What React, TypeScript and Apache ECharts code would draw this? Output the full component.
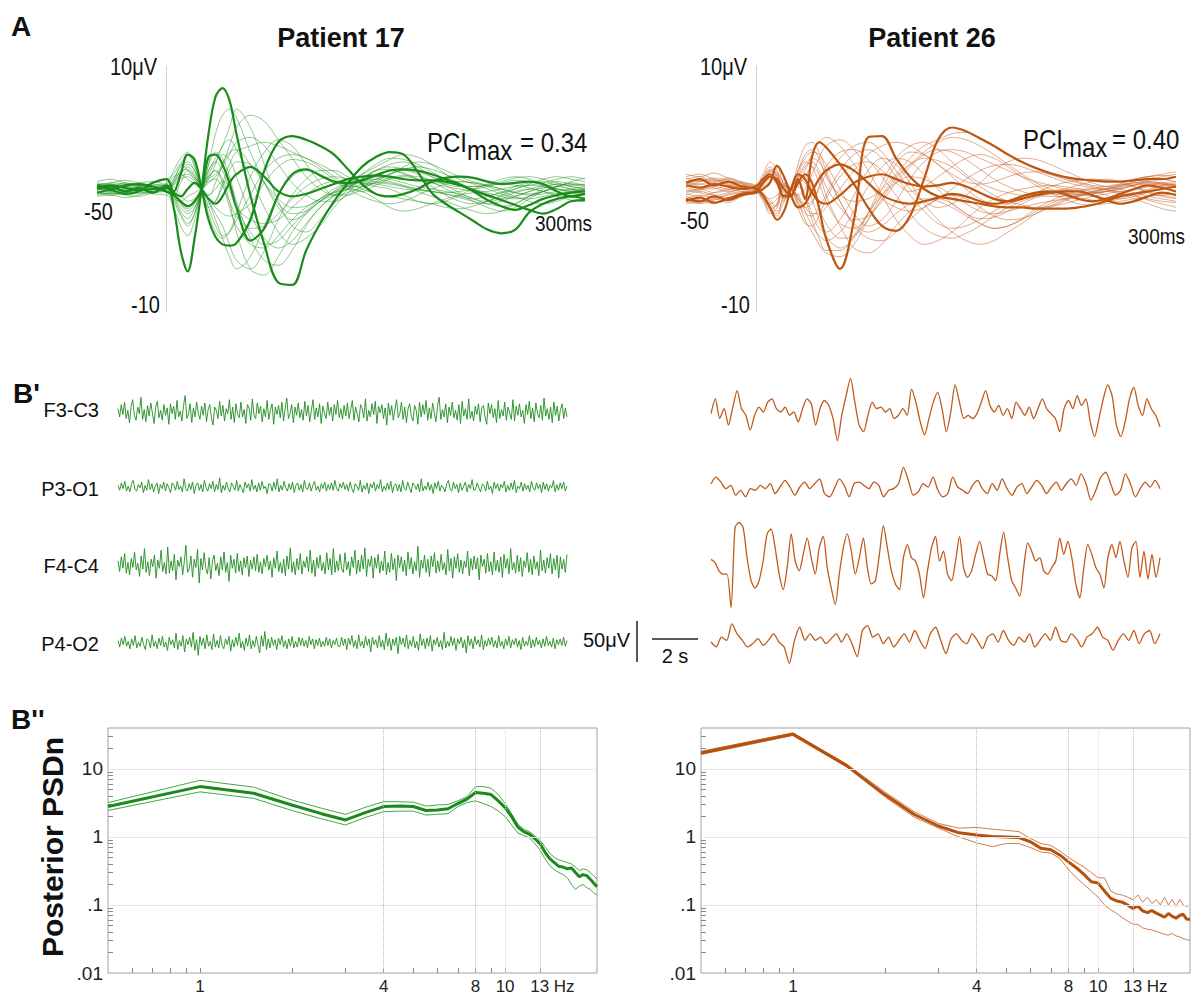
import React, { useEffect, useRef } from "react";
import * as echarts from "echarts";

// ---------- Panel A: TMS-evoked potentials (µV) ----------
const erpTimesMs = [-50, -40, -30, -20, -10, 0, 5, 10, 15, 20, 25, 30, 35, 40, 45, 50, 60, 70, 80, 90, 100, 110, 120, 130, 140, 150, 160, 170, 180, 190, 200, 210, 220, 230, 240, 250, 260, 270, 280, 290, 300];

const patient17Thin = [
  [0.3,0.5,0.4,0.2,0.5,0.8,1.2,2.0,1.5,0.8,0,-1.5,-3.0,-3.8,-3.5,-2.5,-0.5,1.5,2.5,2.8,2.5,1.8,1.0,0.2,-0.2,0.3,0.8,1.0,0.8,0.5,0.2,0,-0.2,-0.5,-0.3,0.2,0.5,0.6,0.3,0,-0.2],
  [-0.4,-0.3,-0.5,-0.6,-0.3,0,0.5,1.2,1.8,1.2,0,2.0,4.5,6.0,6.5,5.8,3.0,0.5,-1.5,-2.5,-2.0,-1.0,-0.3,0.2,0.8,1.5,2.0,2.2,1.8,1.0,0.3,-0.3,-0.8,-1.0,-0.8,-0.3,0,0.3,0.6,0.4,0.2],
  [0.2,0,0.3,0.5,0.6,0.2,-0.8,-2.0,-2.8,-2.0,0,1.0,1.5,0.8,-1.0,-3.5,-6.5,-7.0,-5.5,-3.5,-2.0,-1.0,-0.5,0,0.8,1.5,1.8,1.6,1.2,0.6,0,-0.5,-1.0,-1.5,-1.8,-1.5,-0.8,-0.2,0.2,0.5,0.3],
  [0.6,0.8,0.5,0.3,0.1,-0.3,-0.5,0.5,1.5,1.0,0,-1.0,-2.0,-3.0,-4.5,-5.8,-6.5,-5.0,-2.5,-0.5,0.8,1.5,1.5,1.0,0.5,0.2,0,-0.5,-1.0,-1.2,-1.0,-0.5,0,0.4,0.8,1.0,0.8,0.4,0,-0.3,-0.5],
  [-0.2,-0.4,-0.3,0,0.3,0.5,1.5,2.5,3.0,2.0,0,-1.5,-1.0,0.5,2.0,3.0,3.5,3.8,3.5,3.0,2.5,2.0,1.4,0.8,0.8,1.2,1.5,1.3,0.8,0.2,-0.5,-1.0,-1.2,-1.0,-0.5,0,0.3,0.5,0.8,1.0,0.8],
  [0.4,0.2,0,-0.2,-0.4,-0.5,-1.5,-3.0,-3.8,-2.5,0,2.0,3.0,2.5,1.0,-1.0,-4.0,-5.8,-6.2,-5.0,-3.0,-1.5,-0.6,0,-0.2,-0.8,-1.5,-1.8,-1.6,-1.2,-0.8,-0.5,-0.3,-0.2,0,0.2,0.3,0.2,-0.2,-0.5,-0.3],
  [-0.6,-0.5,-0.7,-0.5,-0.2,0,0.3,0.8,1.0,0.6,0,0.8,2.0,3.5,4.0,3.2,1.0,-1.5,-3.5,-4.5,-4.0,-3.0,-1.5,-0.3,0.8,1.5,1.6,1.2,0.8,0.5,0.5,0.6,0.5,0.2,-0.2,-0.6,-1.0,-1.2,-1.0,-0.6,-0.4],
  [0,0.2,0.4,0.3,0,-0.2,0.5,1.5,2.0,1.5,0,-2.0,-3.5,-4.0,-3.5,-2.0,1.0,3.0,4.0,3.5,2.0,0.5,-0.5,-0.5,0,0.6,1.2,1.8,2.2,2.0,1.5,1.0,0.6,0.3,0,-0.3,-0.4,-0.2,0.2,0.6,0.9],
  [0.5,0.3,0.1,-0.1,-0.2,0.3,-0.5,-1.5,-2.0,-1.5,0,1.5,2.5,3.5,5.0,6.5,5.0,2.0,-1.0,-3.0,-3.5,-2.5,-1.2,0,0.8,1.0,0.8,0.5,0.2,0,-0.2,-0.4,-0.8,-1.2,-1.4,-1.2,-0.6,0,0.4,0.2,0],
  [-0.1,0,-0.2,-0.4,-0.2,0.1,0.8,1.8,2.2,1.5,0,-0.5,0,0.6,0.2,-1.5,-3.5,-4.5,-4.2,-3.0,-1.8,-0.8,0,0.5,1.2,2.0,2.5,2.4,2.0,1.4,0.8,0.4,0,-0.3,-0.6,-0.8,-0.6,-0.2,0.2,0.4,0.3],
  [0.3,0.5,0.7,0.5,0.2,-0.3,-1.0,-2.2,-3.0,-2.0,0,1.5,2.2,1.5,0,-1.5,-2.5,-2.8,-2.5,-1.5,-0.5,0.3,0.6,0.4,0,-0.4,-0.6,-0.8,-1.0,-1.2,-1.5,-1.6,-1.4,-1.0,-0.6,-0.2,0,-0.2,-0.6,-0.9,-1.0],
  [-0.3,-0.5,-0.3,-0.1,0.2,0.4,1.0,1.2,0.8,0.4,0,0.5,1.0,1.8,2.8,3.8,4.2,3.5,2.0,0.5,-0.5,-1.0,-1.0,-0.5,0.2,0.8,1.2,1.5,1.4,1.0,0.6,0.3,0.2,0.3,0.6,0.9,1.0,0.8,0.5,0.3,0.4],
  [0.1,-0.1,0.2,0,-0.3,-0.2,-0.8,-1.0,-0.6,-0.3,0,-1.0,-2.5,-4.0,-5.5,-6.5,-5.5,-3.0,-0.5,1.0,1.5,1.2,0.6,0,-0.6,-1.0,-1.2,-1.0,-0.5,0,0.4,0.6,0.5,0.3,0,-0.3,-0.5,-0.4,-0.2,0,0.2],
  [0.2,0.4,0.2,0.3,0.4,0.2,0.8,2.0,2.8,1.8,0,-1.2,-1.0,0.2,1.5,2.2,2.0,0.5,-1.2,-2.0,-1.8,-1.0,-0.2,0.5,1.2,1.8,2.4,2.8,2.6,2.0,1.2,0.4,-0.2,-0.6,-0.8,-0.6,-0.2,0.2,0.4,0.2,0],
  [-0.5,-0.3,0,0.2,0,0,-0.4,-1.2,-1.6,-1.0,0,0.8,1.2,2.0,3.5,5.0,6.0,5.5,4.0,2.5,1.0,0,-0.5,-0.3,0.2,0.5,0.4,0.2,0,-0.2,-0.4,-0.6,-0.8,-0.6,-0.3,0,0.4,0.8,1.0,0.8,0.6],
  [0,-0.2,-0.4,-0.2,0,0.3,0.2,-0.5,-1.0,-0.8,0,1.0,1.5,0.5,-1.5,-3.0,-4.5,-4.8,-3.8,-2.5,-1.5,-0.8,-0.3,0,0.4,0.6,0.5,0.2,-0.2,-0.6,-1.0,-1.4,-1.8,-2.0,-1.8,-1.2,-0.6,-0.2,0,-0.2,-0.4],
  [0.2,0,0.2,0.4,0.2,0,0.4,1.0,1.2,0.8,0,-0.8,-1.5,-2.0,-2.2,-2.0,-1.2,0.5,1.8,2.4,2.2,1.6,0.8,0.2,0.2,0.5,0.9,1.1,1.0,0.7,0.4,0.2,0.2,0.3,0.4,0.3,0.1,-0.2,-0.4,-0.3,-0.1],
  [-0.2,-0.4,-0.2,0,0.2,0.1,-0.6,-1.8,-2.4,-1.6,0,1.2,2.2,2.8,2.4,1.0,-2.0,-4.0,-4.8,-4.2,-2.8,-1.5,-0.5,0.2,0.5,0.4,0.2,0,-0.1,-0.2,-0.4,-0.7,-1.0,-1.2,-1.0,-0.6,-0.2,0.1,0.2,0,-0.2],
  [0.4,0.2,0.5,0.3,0,-0.2,0.6,1.4,1.6,1.0,0,-0.5,0.5,2.0,3.0,3.2,2.0,0.5,-0.8,-1.5,-1.4,-0.8,-0.2,0.3,0.6,0.8,0.6,0.3,0,-0.2,-0.3,-0.2,0,0.2,0.5,0.7,0.6,0.3,0,-0.1,0],
  [-0.1,0.1,-0.1,-0.3,-0.1,0.2,-0.3,-1.2,-1.8,-1.2,0,0.6,0.8,0.2,-1.0,-2.2,-3.2,-3.0,-2.0,-0.8,0.2,0.8,1.0,0.8,0.6,0.8,1.2,1.6,1.8,1.6,1.2,0.8,0.4,0,-0.4,-0.7,-0.8,-0.6,-0.4,-0.2,0],
];

const patient17Thick = [
  [0,0.2,-0.2,0.1,-0.3,0.3,-1.5,-5.0,-6.7,-4.0,0,4.5,7.5,8.2,7.2,4.5,-0.5,-4.5,-7.6,-7.8,-5.0,-2.8,-1.0,0.5,1.8,2.6,3.0,2.8,1.4,-0.3,-1.2,-1.9,-2.6,-3.3,-3.6,-3.3,-1.9,-1.2,-0.8,-0.6,-0.8],
  [-0.3,-0.1,-0.4,-0.2,0.5,0.8,-0.2,1.2,2.8,2.4,0,-2.5,-3.9,-4.5,-4.6,-4.4,-2.5,1.5,3.8,4.3,4.0,3.5,2.8,1.6,0.4,-0.4,-0.6,-0.4,0,0.6,0.9,1.0,0.9,0.6,0.4,0.5,0.6,0.4,-0.2,-0.6,-0.4],
  [0.3,0,0.3,0.4,0.2,-0.2,-0.5,-1.0,-1.4,-1.0,0,2.6,2.8,2.0,0.5,-1.5,-4.2,-3.2,-0.5,1.2,1.6,1.1,0.6,0.5,0.7,1.1,1.5,1.6,1.5,1.2,0.8,0.4,-0.2,-0.9,-1.4,-1.7,-1.3,-0.8,-0.5,-0.3,-0.2],
  [0.1,0.3,0.1,-0.1,0,0.1,-0.3,-0.6,0,0.5,0,-0.8,-1.2,-0.6,0.5,1.2,1.8,1.0,-0.2,-0.6,-0.4,0,0.4,0.8,1.0,1.1,1.0,0.8,0.7,0.7,0.6,0.3,-0.1,-0.5,-0.9,-1.3,-1.7,-2.0,-1.6,-1.0,-0.9],
];

const patient26Thin = [
  [0.8,1.0,0.6,0.9,0.5,0.2,0.8,1.6,1.0,-0.5,0,1.5,2.5,3.0,2.8,2.0,0,-2.0,-3.0,-2.5,-1.0,0.8,2.2,3.0,3.2,3.0,2.5,2.0,1.5,1.0,0.6,0.3,0,-0.2,-0.3,-0.2,0.2,0.6,1.0,1.2,1.4],
  [-0.6,-0.9,-1.2,-0.8,-0.5,-0.2,-0.8,-1.8,-1.2,0.5,0,-1.0,-2.5,-3.5,-4.5,-5.2,-5.5,-4.5,-2.5,-0.5,1.0,2.0,2.5,2.3,1.8,1.0,0.2,-0.5,-1.0,-1.3,-1.5,-1.4,-1.2,-0.9,-0.6,-0.4,-0.2,-0.5,-0.9,-1.2,-1.5],
  [0.2,0.4,0.1,-0.2,0,0.3,1.2,2.2,1.5,-0.8,0,1.0,1.0,0,-1.5,-2.8,-4.0,-3.8,-2.5,-0.8,0.8,2.0,3.0,3.8,4.2,4.0,3.5,2.8,2.0,1.2,0.5,0,-0.3,-0.5,-0.4,-0.2,0,0.3,0.5,0.4,0.3],
  [-0.3,0,0.3,0.5,0.2,0,-0.6,-1.5,-2.0,-0.5,0,2.0,3.5,3.8,3.0,1.5,-1.0,-2.8,-3.5,-3.0,-2.0,-1.2,-0.8,-1.0,-1.5,-2.2,-2.8,-3.2,-3.0,-2.5,-1.8,-1.2,-0.8,-0.5,-0.3,-0.2,-0.4,-0.8,-1.2,-1.6,-1.8],
  [1.2,1.0,1.3,0.9,0.6,0.3,1.0,1.8,1.2,0,0,-0.8,-1.5,-2.0,-2.0,-1.5,0,1.5,2.8,3.5,3.8,3.5,2.8,2.0,1.0,0,-0.8,-1.2,-1.2,-0.8,-0.3,0.2,0.5,0.7,0.8,0.7,0.6,0.8,1.0,0.8,0.6],
  [-1.2,-1.0,-0.8,-1.1,-0.6,-0.3,-1.0,-2.0,-1.5,0.8,0,-0.5,0,1.2,2.5,3.5,4.0,3.2,1.5,-0.5,-2.5,-3.8,-4.5,-4.2,-3.5,-2.5,-1.5,-0.8,-0.3,0,0.2,0.3,0.2,0,-0.2,-0.5,-0.8,-0.6,-0.3,0,0.2],
  [0.5,0.2,0,0.3,0.1,0,0.5,1.0,0.8,-0.3,0,0.8,0.5,-0.8,-2.5,-3.8,-4.8,-4.0,-2.0,0.5,2.5,3.5,3.8,3.2,2.2,1.2,0.5,0,-0.3,-0.5,-0.4,-0.2,0,0.3,0.6,0.8,0.6,0.2,-0.3,-0.6,-0.8],
  [-0.4,-0.6,-0.3,0,-0.2,-0.1,0.3,0.8,0.5,-0.2,0,1.5,2.8,3.2,2.5,1.0,-0.5,-1.0,-0.8,0,1.2,2.5,3.5,4.0,4.5,4.6,4.2,3.5,2.8,2.2,1.6,1.2,0.8,0.5,0.2,0,-0.2,-0.1,0.2,0.5,0.6],
  [0.9,0.6,0.8,0.4,0.3,0.1,-0.5,-1.2,-1.8,-0.6,0,0.5,-0.5,-2.0,-3.2,-3.5,-2.5,-0.5,1.5,2.5,2.0,0.5,-1.2,-2.5,-3.5,-4.2,-4.5,-4.2,-3.5,-2.8,-2.0,-1.4,-0.9,-0.5,-0.2,0,0.2,0.4,0.5,0.4,0.2],
  [-0.8,-0.5,-0.7,-0.4,-0.2,0,0.6,1.4,1.8,0.3,0,-1.2,-2.0,-2.2,-1.5,-0.5,1.5,2.8,3.2,2.5,1.0,-0.5,-1.8,-2.8,-3.2,-3.0,-2.5,-1.8,-1.2,-0.8,-0.5,-0.4,-0.5,-0.7,-0.9,-1.0,-0.8,-0.4,0,0.3,0.5],
  [0.3,0.6,0.9,0.7,0.4,0.2,-0.3,-0.8,-0.5,0.2,0,-0.5,-1.2,-1.0,0,1.2,2.5,3.5,3.8,3.0,1.5,0,-1.0,-1.5,-1.2,-0.5,0.5,1.5,2.2,2.5,2.4,2.0,1.5,1.0,0.5,0.2,0,-0.3,-0.6,-0.8,-1.0],
  [-0.1,-0.3,-0.5,-0.3,0,0.2,0.8,1.2,0.6,-0.5,0,1.0,2.0,2.5,2.2,1.2,-1.0,-3.0,-4.0,-4.2,-3.5,-2.5,-1.5,-0.8,-0.5,-0.8,-1.5,-2.2,-2.5,-2.4,-2.0,-1.5,-1.0,-0.6,-0.3,0,0.3,0.5,0.6,0.5,0.3],
  [1.0,1.2,0.8,0.6,0.5,0.3,-0.5,-1.5,-2.2,-1.0,0,0.2,-0.8,-2.5,-4.0,-5.0,-5.0,-3.8,-2.0,-0.5,0.5,1.0,0.8,0.2,-0.5,-1.2,-1.8,-2.0,-1.8,-1.5,-1.2,-1.0,-0.8,-0.6,-0.4,-0.2,0,0.3,0.7,1.0,1.2],
  [-1.0,-1.2,-0.9,-0.7,-0.4,-0.2,0.2,0.6,1.2,0.5,0,0.5,1.5,2.8,3.8,4.2,3.5,2.0,0.5,-0.8,-1.5,-1.8,-1.5,-0.8,0,0.8,1.5,1.9,2.0,1.8,1.4,1.0,0.6,0.3,0.1,0,0.1,0.3,0.4,0.3,0.1],
  [0.1,-0.1,0.2,0,0.2,0,0.8,1.5,1.0,-1.0,0,-1.5,-2.8,-3.0,-2.2,-0.8,1.0,2.0,2.2,1.5,0.5,-0.2,0.2,1.0,1.8,2.5,2.8,2.5,1.8,1.0,0.3,-0.3,-0.8,-1.2,-1.3,-1.2,-1.0,-0.8,-0.6,-0.5,-0.4],
  [-0.5,-0.2,-0.5,-0.7,-0.3,-0.1,-0.8,-1.2,-0.8,0.4,0,0.3,1.0,1.8,1.2,-0.5,-3.0,-4.8,-5.2,-4.5,-3.0,-1.8,-1.0,-0.8,-1.2,-2.0,-2.8,-3.2,-3.0,-2.4,-1.6,-1.0,-0.5,-0.2,0,0.2,0.4,0.2,-0.2,-0.5,-0.7],
  [0.6,0.4,0.7,0.3,0.2,0,-0.4,-1.0,-1.4,0.2,0,0.8,1.8,2.2,1.5,0.2,-1.5,-2.5,-2.2,-1.0,0.5,1.8,2.8,3.2,3.0,2.4,1.6,0.8,0.2,-0.2,-0.5,-0.6,-0.6,-0.4,-0.2,0,0.4,0.8,1.0,1.1,1.0],
  [-0.9,-1.1,-0.8,-0.5,-0.3,-0.2,0.4,1.0,1.4,0,0,-0.8,-1.5,-1.2,0.2,1.8,3.0,3.2,2.4,1.0,-0.5,-2.0,-3.2,-3.8,-4.0,-3.6,-3.0,-2.2,-1.5,-1.0,-0.6,-0.3,-0.1,0,0,-0.1,-0.3,-0.6,-0.8,-1.0,-1.1],
  [0.4,0.7,0.5,0.8,0.4,0.1,0.6,1.4,0.8,-0.6,0,1.2,2.2,1.8,0.5,-1.0,-2.8,-3.2,-2.0,0,2.0,3.0,2.8,2.0,1.2,0.6,0.4,0.6,1.0,1.3,1.4,1.2,0.9,0.6,0.3,0.2,0.3,0.5,0.6,0.5,0.3],
  [-0.2,0,-0.3,-0.1,0.1,0,-0.7,-1.6,-1.2,0.3,0,-0.6,-1.8,-3.0,-3.8,-4.2,-3.5,-1.8,0.2,1.8,2.5,2.2,1.2,0,-1.2,-2.0,-2.4,-2.3,-1.8,-1.2,-0.7,-0.4,-0.3,-0.4,-0.6,-0.7,-0.6,-0.4,-0.1,0.2,0.4],
];

const patient26Thick = [
  [0.3,0.1,0.4,0.2,0,0.2,0.8,1.2,0.5,-0.6,-0.6,0.8,-0.8,2.6,3.8,3.4,2.0,0.4,-1.5,-3.0,-3.4,-2.2,0.8,4.0,5.0,4.7,4.1,3.5,2.8,2.2,1.7,1.3,1.0,0.8,0.7,0.6,0.6,0.7,0.8,0.8,1.0],
  [-1.0,-0.7,-1.1,-0.8,-0.4,-0.2,0.5,1.0,0.8,0,-0.5,0.5,1.2,0.5,-1.5,-4.0,-6.5,-2.5,4.2,4.3,2.5,1.0,0,-0.6,-0.8,-1.0,-1.2,-1.4,-1.5,-1.5,-1.6,-1.6,-1.6,-1.5,-1.3,-1.0,-0.6,-0.4,-0.2,0,0.2],
  [-0.8,-1.0,-0.6,-0.9,-0.5,-0.3,0,0.5,1.9,1.0,-0.5,-1.5,-1.2,-0.2,0.8,1.5,2.0,1.5,0.5,-0.5,-1.0,-1.2,-1.0,-0.7,-0.4,-0.6,-1.0,-1.2,-1.0,-0.6,-0.3,-0.2,-0.4,-0.8,-1.0,-0.8,-0.4,0,0.3,0.1,-0.2],
  [0.5,0.8,0.3,0.6,0.2,0,-0.5,-1.5,-2.5,-1.8,0,1.2,0.8,-0.3,-1.0,-1.2,-0.5,0.5,1.0,1.2,0.8,0.4,0.2,0.3,0.5,0.2,-0.3,-0.8,-1.0,-0.8,-0.5,-0.3,-0.2,-0.2,-0.5,-0.9,-1.2,-1.0,-0.6,-0.3,-0.5],
];

// ---------- Panel B': spontaneous EEG (µV) ----------
const eegChannels = ["F3-C3", "P3-O1", "F4-C4", "P4-O2"];

const patient17F3C3 = [4,-6,9,-3,12,-8,2,-13,7,15,-4,-10,6,-2,18,-9,3,-12,8,-5,11,-1,-14,6,13,-7,2,-10,9,-4,5,-15,10,-2,7,-9,14,-6,1,-11,8,20,-8,-3,10,-13,5,-6,12,-2,-9,7,-4,11,-12,3,9,-7,-16,6,2,-8,13,-5,8,-11,4,-2,15,-9,6,-13,10,-3,-7,12,-6,3,-14,9,5,-10,16,-4,-8,11,-2,7,-12,4,-6,14,-9,2,10,-15,6,-3,8,-7,12,-11,4,17,-8,-2,9,-13,6,-4,11,-7,3,-10,13,-5,8,-12,2,15,-9,5,-6,10,-14,7,-1,-8,12,-4,6,-11,9,-3,14,-7,4,-9,8,
  -5,11,-8,3,14,-10,6,-2,-12,9,4,-7,16,-11,2,-6,10,-3,13,-14,7,-1,9,-8,5,-16,11,-4,8,-10,3,15,-7,-2,12,-9,6,-13,4,10,-5,-11,8,2,-15,12,-6,9,-3,14,-10,5,-8,11,-1,-12,7,18,-9,3,-6,10,-13,6,-4,12,-7,2,-10,9,-14,13,-5,4,-9,16,-8,1,-11,7,-3,10,-12,5,8,-6,-15,11,-2,9,-7,4,-13,14,-8,3,-5,12,-10,6,-1,-9,15,-11,7,-4,10,-6,2,-14,9,-3,13,-8,5,-12,11,-2,-7,8,-10,17,-5,4,-9,6,-13,12,-4,7,-11,3,10,-8,5,-6];
const patient17P3O1 = [2,-4,5,-2,7,-5,1,-6,4,8,-3,-5,3,-1,6,-7,2,-4,9,-3,4,-6,1,5,-8,3,-2,6,-5,4,-1,-7,5,2,-4,7,-3,1,-6,10,-2,-5,4,-3,6,-8,2,5,-4,3,-6,8,-1,-5,4,-2,7,-6,3,-3,11,-7,2,-4,6,-2,-6,5,1,-4,8,-5,3,-2,-7,6,-1,4,-5,9,-3,2,-6,5,-4,7,-2,1,-8,4,3,-5,6,-3,10,-6,2,-4,7,-1,-5,4,-3,6,-7,2,5,-4,3,-6,8,-2,-3,5,-5,2,7,-4,1,-6,4,-2,6,-5,3,-3,5,-4,8,-2,-5,4,-1,6,-3,
  3,-5,6,-2,-7,4,1,-4,8,-6,2,-3,5,-8,4,-1,6,-5,3,-2,9,-6,1,-4,5,-3,7,-7,2,4,-5,3,-6,8,-2,-4,6,-1,-7,5,2,-3,4,-6,10,-5,1,-3,6,-4,3,-8,5,-2,7,-5,2,-1,-6,4,8,-3,-5,6,-2,3,-7,5,-4,1,6,-6,3,-2,9,-4,-3,5,-1,-6,4,2,-5,7,-3,1,-8,6,-2,4,-5,3,-1,7,-6,2,-4,5,-3,8,-7,1,-2,6,-5,4,-3,2,-6,7,-1,-4,5,-2,3,-7,6,-3,4,-5,2,-1,8,-6,3,-4,5,-2,6,-5,1];
const patient17F4C4 = [5,-8,10,-4,14,-10,3,-12,8,-3,16,-6,2,-14,11,-5,20,-9,4,-13,7,-2,12,-16,6,-4,18,-8,3,-11,22,-10,5,-7,13,-18,6,-2,10,-12,4,24,-9,-5,11,-15,7,-3,19,-22,8,-6,15,-4,-11,9,-17,5,12,-7,2,-13,10,-6,16,-9,3,-20,12,-4,7,-10,14,-8,5,-12,9,-3,11,-14,6,-5,10,-7,13,-9,4,-11,8,-2,12,-6,5,-15,9,-4,17,-8,3,-10,7,-13,11,-5,21,-9,4,-12,8,-6,14,-11,5,-3,10,-8,18,-10,6,-14,9,-4,12,-7,3,-11,15,-6,8,-12,20,-9,5,-7,13,-5,
  -9,15,-6,4,-13,10,-3,18,-11,6,-8,12,-5,21,-14,7,-2,11,-16,9,-4,13,-10,5,-7,17,-12,3,-9,14,-6,8,-19,12,-3,10,-8,6,-13,16,-5,9,-11,4,-7,23,-15,6,-4,12,-9,7,-14,11,-2,15,-10,5,-8,13,-6,3,-12,19,-7,8,-16,10,-4,14,-9,6,-11,5,-3,17,-13,8,-6,11,-5,9,-18,12,-2,7,-10,14,-8,4,-12,16,-7,6,-9,10,-15,13,-4,8,-11,20,-6,3,-10,12,-8,9,-14,5,-3,15,-9,7,-12,11,-5,4,-13,18,-7,6,-10,9,-4,14,-11,8,-6,12,-16,10,-5,7,-9,13];
const patient17P4O2 = [3,-5,6,-2,8,-4,2,-7,5,-3,9,-6,1,-4,7,-2,-8,5,3,-6,10,-4,2,-7,6,-3,8,-5,1,-9,7,-2,4,-6,12,-8,3,-4,9,-11,5,-2,7,-5,13,-9,4,-15,8,-3,6,-7,10,-4,2,-8,11,-5,3,-6,9,-3,-7,5,-2,8,-10,4,-5,7,-3,12,-6,2,-9,6,-4,10,-7,3,-5,8,-2,-12,9,-4,14,-8,5,-6,7,-3,4,-8,6,-2,9,-5,3,-7,5,-4,8,-6,2,-5,7,-3,6,-4,3,-6,8,-2,5,-7,4,-3,6,-5,2,-4,7,-3,5,-6,3,-2,6,-4,
  -4,7,-3,5,-8,6,-2,9,-5,3,-7,10,-4,2,-6,8,-3,5,-11,7,-2,4,-6,9,-5,3,-8,12,-4,6,-9,5,-3,7,-13,8,-2,6,-5,10,-7,3,-4,8,-6,2,-9,11,-3,5,-7,6,-4,9,-10,4,-2,7,-5,3,-8,13,-6,2,-4,8,-3,6,-9,5,-1,7,-6,4,-12,9,-3,5,-7,8,-2,4,-5,10,-8,3,-4,6,-2,7,-5,3,-6,9,-4,2,-7,5,-3,8,-6,4,-2,6,-5,3,-8,7,-4,2,-3,9,-6,4,-5,7,-2,3,-6,5,-4,8,-3,2,-5,6,-7,4,-2,5,-3,7,-4,3];

const patient26F3C3 = [-2,16,-8,4,-16,6,26,4,-4,-22,-4,6,0,12,16,4,0,6,-4,0,-12,4,16,10,-16,4,14,8,-8,-35,-4,20,41,12,-16,-24,-4,12,4,6,0,4,-8,-4,4,-4,28,12,-12,-28,-8,12,24,4,-24,0,33,12,-8,-4,-8,-2,12,26,8,0,8,-4,4,-8,12,4,-4,6,-8,4,16,4,-2,-8,-24,4,14,4,20,8,16,-12,-30,-8,16,33,20,-16,-30,-12,16,30,8,-4,16,4,-4,-18];
const patient26P3O1 = [4,12,6,-2,2,-10,-4,-12,-2,-4,2,-2,4,-8,0,8,0,-10,0,6,-2,4,10,-8,-12,-2,10,2,-12,4,6,2,-2,6,2,-12,-4,-2,4,24,8,-10,-6,4,0,12,-4,-12,-8,12,0,-4,-8,2,8,-2,-8,4,-4,10,-2,-10,0,4,-8,0,8,2,-8,0,6,-4,4,10,2,16,4,-16,-4,12,18,4,-10,-4,16,4,-12,-2,6,0,8,-2];
const patient26F4C4 = [2,-2,-12,-16,-16,-57,41,47,41,4,-24,-33,-24,0,33,39,16,-16,-35,-8,33,0,-12,8,28,4,-16,16,30,-8,-33,-53,-16,16,33,12,-16,4,28,-8,-28,-24,8,43,16,-12,-28,-35,4,20,4,0,-16,-45,-12,16,30,0,12,-16,-24,0,30,-8,-20,-12,8,24,4,-16,-18,-24,8,35,4,-24,-33,-43,-8,22,12,0,4,-12,-16,-8,0,28,8,24,4,-28,-45,-8,20,8,-8,-16,-33,4,20,4,24,0,-20,16,24,-20,12,-22,8,-20,4];
const patient26P4O2 = [0,-6,6,2,22,10,2,-6,-2,4,-4,2,10,0,-6,-26,2,18,2,10,2,6,-2,4,10,0,10,-2,-18,14,20,6,10,-2,6,-6,2,10,0,14,2,-8,10,18,2,-14,4,10,2,-2,10,2,-8,6,10,0,14,2,-4,6,0,10,-6,2,10,2,18,2,0,10,4,-6,6,10,18,6,2,-10,2,10,2,14,-2,10,14,-2,10];

// ---------- Panel B'': posterior normalised PSD ----------
const psdFreqsHz = [0.5,1,1.5,2,2.5,3,3.5,4,4.5,5,5.5,6,6.5,7,7.5,8,8.5,9,9.5,10,10.5,11,11.5,12,12.5,13,13.5,14,14.5,15,15.5,16,16.5,17,17.5,18,18.5,19,19.5,20];
const p17PsdMean = [2.8,5.5,4.4,2.95,2.2,1.78,2.3,2.8,2.85,2.8,2.45,2.5,2.6,3.1,3.6,4.5,4.4,4.2,3.4,2.7,2.0,1.4,1.2,1.1,0.95,0.8,0.6,0.48,0.42,0.37,0.36,0.34,0.35,0.3,0.26,0.28,0.27,0.24,0.21,0.185];
const p17PsdUpper = [3.2,6.8,5.4,3.5,2.65,2.15,2.75,3.3,3.3,3.25,2.85,2.95,3.0,3.4,3.9,5.5,5.5,5.2,4.2,3.1,2.2,1.55,1.3,1.2,1.05,0.9,0.72,0.58,0.5,0.46,0.44,0.42,0.4,0.36,0.32,0.34,0.33,0.3,0.27,0.24];
const p17PsdLower = [2.45,4.6,3.7,2.45,1.85,1.5,1.95,2.35,2.4,2.4,2.1,2.15,2.2,2.8,3.2,3.4,3.1,2.8,2.4,2.0,1.5,1.15,1.05,0.98,0.8,0.65,0.48,0.38,0.33,0.3,0.28,0.25,0.2,0.17,0.19,0.2,0.18,0.17,0.15,0.14];
const p26PsdMean = [17.2,32.5,11.2,4.2,2.14,1.45,1.15,1.07,1.02,1.0,0.98,0.85,0.68,0.65,0.54,0.43,0.35,0.28,0.22,0.21,0.16,0.125,0.115,0.11,0.1,0.089,0.096,0.082,0.077,0.083,0.076,0.071,0.066,0.075,0.068,0.064,0.07,0.073,0.062,0.061];
const p26PsdUpper = [18.2,34,11.8,4.6,2.35,1.58,1.35,1.38,1.3,1.25,1.2,0.95,0.8,0.75,0.62,0.5,0.42,0.36,0.3,0.25,0.25,0.16,0.145,0.14,0.13,0.12,0.14,0.11,0.13,0.105,0.12,0.1,0.13,0.1,0.12,0.095,0.12,0.1,0.095,0.1];
const p26PsdLower = [16.3,31,10.7,3.9,1.95,1.35,1.0,0.82,0.72,0.8,0.8,0.7,0.6,0.58,0.48,0.33,0.25,0.2,0.16,0.13,0.1,0.085,0.075,0.065,0.058,0.052,0.052,0.046,0.044,0.043,0.041,0.039,0.037,0.036,0.038,0.035,0.034,0.032,0.031,0.03];

const psdXTickLabels = [1, 4, 8, 10, 13];
const psdXTicks = [0.6, 0.7, 0.8, 0.9, 1, 2, 3, 4, 5, 6, 7, 8, 9, 10, 13];
const psdXGridLines = [4, 8, 10, 13];
const psdYTickLabels = [0.01, 0.1, 1, 10];
const psdYTicks = [0.02,0.03,0.04,0.05,0.06,0.07,0.08,0.09,0.1,0.2,0.3,0.4,0.5,0.6,0.7,0.8,0.9,1,2,3,4,5,6,7,8,9,10,20,30];
const psdYGridLines = [0.1, 1, 10];

const FONT = '"Liberation Sans", Arial, Helvetica, sans-serif';
const GREEN = "#198c19";
const GREEN_THIN = "rgba(40,150,40,0.5)";
const ORANGE = "#bf560f";
const ORANGE_THIN = "rgba(200,105,55,0.55)";

function buildOption() {
  const grid: any[] = [];
  const xAxis: any[] = [];
  const yAxis: any[] = [];
  const series: any[] = [];
  const addGrid = (g: any, x: any, y: any) => {
    grid.push(g);
    const i = grid.length - 1;
    xAxis.push({ ...x, gridIndex: i });
    yAxis.push({ ...y, gridIndex: i });
    return i;
  };

  // ---- Panel A
  const bfX = { type: "value", min: -50, max: 300, show: false };
  const bfY = {
    type: "value", min: -10, max: 10,
    axisLine: { show: true, onZero: true, lineStyle: { color: "#cfcfcf", width: 1 } },
    axisTick: { show: false }, axisLabel: { show: false }, splitLine: { show: false },
  };
  const bfL = addGrid({ left: 97, top: 66, width: 488, height: 246 }, bfX, bfY);
  const bfR = addGrid({ left: 686, top: 66, width: 490, height: 246 }, bfX, bfY);
  const toXY = (vals: number[]) => erpTimesMs.map((t, i) => [t, vals[i]]);
  const addErp = (gi: number, thin: number[][], thick: number[][], thinColor: string, thickColor: string) => {
    thin.forEach((v) => series.push({
      type: "line", xAxisIndex: gi, yAxisIndex: gi, data: toXY(v), symbol: "none", smooth: 0.35,
      silent: true, z: 2, lineStyle: { color: thinColor, width: 1 },
    }));
    thick.forEach((v) => series.push({
      type: "line", xAxisIndex: gi, yAxisIndex: gi, data: toXY(v), symbol: "none", smooth: 0.35,
      silent: true, z: 3, lineStyle: { color: thickColor, width: 2.2 },
    }));
  };
  addErp(bfL, patient17Thin, patient17Thick, GREEN_THIN, GREEN);
  addErp(bfR, patient26Thin, patient26Thick, ORANGE_THIN, ORANGE);

  // ---- Panel B'
  const PX_PER_UV = 0.82;
  const RANGE = 60;
  const eegH = 2 * RANGE * PX_PER_UV;
  const leftEeg = [patient17F3C3, patient17P3O1, patient17F4C4, patient17P4O2];
  const rightEeg = [patient26F3C3, patient26P3O1, patient26F4C4, patient26P4O2];
  const leftCenters = [412, 487, 565, 643];
  const rightCenters = [412, 487, 561, 642];
  const addEeg = (vals: number[], left: number, center: number, color: string, w: number, smooth: number) => {
    const gi = addGrid(
      { left, top: center - eegH / 2, width: 449, height: eegH },
      { type: "category", data: vals.map((_, i) => i), boundaryGap: false, show: false },
      { type: "value", min: -RANGE, max: RANGE, show: false },
    );
    series.push({
      type: "line", xAxisIndex: gi, yAxisIndex: gi, data: vals, symbol: "none", silent: true, smooth,
      lineStyle: { color, width: w },
    });
  };
  leftEeg.forEach((v, i) => addEeg(v, 118, leftCenters[i], "#1f8c1f", 0.9, 0));
  rightEeg.forEach((v, i) => addEeg(v, 711, rightCenters[i], "#c05a1a", 1.3, 0.25));

  // ---- Panel B''
  const fmtY = (v: number) => (v < 0.05 ? ".01" : v < 0.5 ? ".1" : v < 5 ? "1" : "10");
  const fmtX = (v: number) => {
    const r = Math.round(v * 10) / 10;
    return r === 13 ? "{h|13 Hz}" : String(r);
  };
  const psdX = {
    type: "log", logBase: 10, min: 0.5, max: 20,
    axisLine: { show: false }, splitLine: { show: false },
    axisTick: { show: true, inside: true, length: 5, customValues: psdXTicks, lineStyle: { color: "#888" } },
    axisLabel: {
      customValues: psdXTickLabels, formatter: fmtX, fontSize: 17, color: "#222", margin: 5, fontFamily: FONT,
      rich: { h: { fontSize: 17, color: "#222", fontFamily: FONT, padding: [0, 0, 0, 25] } },
    },
  };
  const psdY = {
    type: "log", logBase: 10, min: 0.01, max: 40,
    axisLine: { show: false }, splitLine: { show: false },
    axisTick: { show: true, inside: true, length: 5, customValues: psdYTicks, lineStyle: { color: "#888" } },
    axisLabel: { customValues: psdYTickLabels, formatter: fmtY, fontSize: 19, color: "#222", margin: 5, fontFamily: FONT },
  };
  const frame = { show: true, borderColor: "#a0a0a0", borderWidth: 1, backgroundColor: "transparent" };
  const psdL = addGrid({ left: 108, top: 728, width: 489, height: 245, ...frame }, psdX, psdY);
  const psdR = addGrid({ left: 701, top: 728, width: 489, height: 245, ...frame }, psdX, psdY);
  const toFV = (vals: number[]) => psdFreqsHz.map((f, i) => [f, vals[i]]);
  const addPsd = (gi: number, mean: number[], up: number[], lo: number[], main: string, band: string) => {
    series.push({
      type: "line", xAxisIndex: gi, yAxisIndex: gi, data: toFV(mean), symbol: "none", silent: true, z: 1,
      lineStyle: { opacity: 0 },
      markLine: {
        silent: true, symbol: "none", label: { show: false },
        data: [
          ...psdXGridLines.map((f) => ({ xAxis: f, lineStyle: { type: "dotted", color: f === 10 ? "#dadada" : "#bcbcbc", width: 1, opacity: 1 } })),
          ...psdYGridLines.map((p) => ({ yAxis: p, lineStyle: { type: "solid", color: "#e6e6e6", width: 1, opacity: 1 } })),
        ],
      },
    });
    [up, lo].forEach((v) => series.push({
      type: "line", xAxisIndex: gi, yAxisIndex: gi, data: toFV(v), symbol: "none", silent: true, z: 2,
      lineStyle: { color: band, width: 1 },
    }));
    series.push({
      type: "line", xAxisIndex: gi, yAxisIndex: gi, data: toFV(mean), symbol: "none", silent: true, z: 3,
      lineStyle: { color: main, width: 3 },
    });
  };
  addPsd(psdL, p17PsdMean, p17PsdUpper, p17PsdLower, "#1b8a1b", "#45a845");
  addPsd(psdR, p26PsdMean, p26PsdUpper, p26PsdLower, "#b5500e", "#cf7d4c");

  // ---- texts
  const txt = (text: string, x: number, y: number, o: any = {}) => ({
    type: "text", x, y, scaleY: o.sy ?? 1, rotation: o.rot ?? 0, silent: true,
    style: {
      text, fill: o.color ?? "#111", fontSize: o.size ?? 20, fontWeight: o.bold ? "bold" : "normal",
      fontFamily: FONT, align: o.align ?? "left", textAlign: o.align ?? "left",
      verticalAlign: "middle", textVerticalAlign: "middle",
    },
  });
  const S = 1.15;
  const graphic: any[] = [
    txt("A", 11, 26, { bold: true, size: 28 }),
    txt("Patient 17", 341, 38, { bold: true, size: 27, align: "center" }),
    txt("Patient 26", 932, 38, { bold: true, size: 27, align: "center" }),
    txt("10μV", 157, 67, { size: 20, align: "right", sy: S }),
    txt("-10", 160, 305, { size: 20, align: "right", sy: S }),
    txt("-50", 84, 212, { size: 20, sy: S }),
    txt("300ms", 535, 223, { size: 19, sy: S }),
    txt("PCI", 427, 142, { size: 24, sy: S }),
    txt("max", 467, 150, { size: 24, sy: S }),
    txt("= 0.34", 520, 142, { size: 24, sy: S }),
    txt("10μV", 747, 67, { size: 20, align: "right", sy: S }),
    txt("-10", 750, 305, { size: 20, align: "right", sy: S }),
    txt("-50", 680, 221, { size: 20, sy: S }),
    txt("300ms", 1128, 236, { size: 19, sy: S }),
    txt("PCI", 1023, 139, { size: 24, sy: S }),
    txt("max", 1062, 147, { size: 24, sy: S }),
    txt("= 0.40", 1112, 139, { size: 24, sy: S }),
    txt("B'", 13, 393, { bold: true, size: 28 }),
    ...eegChannels.map((c, i) => txt(c, 99, [410, 489, 566, 644][i], { size: 20, align: "right" })),
    txt("50μV", 630, 640, { size: 20, align: "right" }),
    txt("2 s", 675, 656, { size: 20, align: "center" }),
    { type: "line", silent: true, shape: { x1: 637, y1: 621, x2: 637, y2: 662 }, style: { stroke: "#222", lineWidth: 1.5 } },
    { type: "line", silent: true, shape: { x1: 652, y1: 639, x2: 698, y2: 639 }, style: { stroke: "#222", lineWidth: 1.5 } },
    txt("B''", 11, 719, { bold: true, size: 28 }),
    txt("Posterior PSDn", 52, 847, { bold: true, size: 30, align: "center", rot: Math.PI / 2 }),
  ];

  return {
    animation: false,
    backgroundColor: "#ffffff",
    textStyle: { fontFamily: FONT },
    grid, xAxis, yAxis, series, graphic,
  };
}

export default function App() {
  const ref = useRef<HTMLDivElement>(null);
  useEffect(() => {
    document.body.style.margin = "0";
    const chart = echarts.init(ref.current!, null, { renderer: "svg" });
    chart.setOption(buildOption() as any);
    return () => chart.dispose();
  }, []);
  return <div ref={ref} style={{ width: 1196, height: 996 }} />;
}
